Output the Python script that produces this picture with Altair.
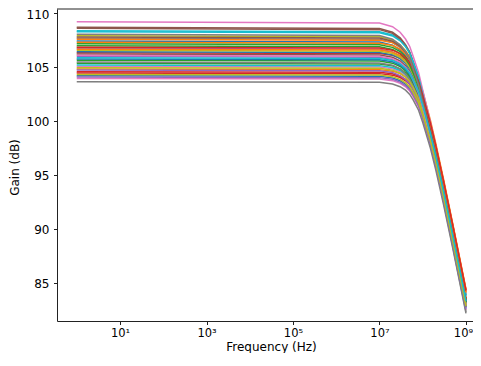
import math
import altair as alt
import pandas as pd

# Frequency points (Hz) shared by every run
freq_hz = [1, 1e7, 2e7, 3e7, 4e7, 5e7, 6e7, 8e7, 1e8, 1.5e8, 2e8, 3e8, 5e8, 1e9]

# Gain (dB) of each Monte-Carlo run, in drawing order
run_00 = [107.41, 107.31, 107.02, 106.57, 106.02, 105.39, 104.57, 103.19, 101.64, 98.81, 96.58, 93.26, 88.93, 82.96]
run_01 = [104.81, 104.76, 104.62, 104.40, 104.10, 103.75, 103.28, 102.38, 101.32, 99.04, 97.07, 93.98, 89.78, 83.86]
run_02 = [105.62, 105.55, 105.36, 105.05, 104.65, 104.19, 103.58, 102.47, 101.18, 98.63, 96.53, 93.32, 89.05, 83.10]
run_03 = [106.32, 106.26, 106.09, 105.81, 105.45, 105.03, 104.47, 103.44, 102.23, 99.77, 97.72, 94.54, 90.29, 84.35]
run_04 = [106.73, 106.64, 106.39, 106.00, 105.50, 104.94, 104.20, 102.92, 101.46, 98.72, 96.53, 93.25, 88.94, 82.97]
run_05 = [106.20, 106.12, 105.90, 105.56, 105.11, 104.60, 103.93, 102.74, 101.37, 98.72, 96.58, 93.33, 89.04, 83.08]
run_06 = [105.06, 105.00, 104.83, 104.55, 104.19, 103.77, 103.21, 102.18, 100.97, 98.51, 96.46, 93.28, 89.03, 83.09]
run_07 = [107.66, 107.56, 107.27, 106.82, 106.27, 105.64, 104.82, 103.44, 101.89, 99.06, 96.83, 93.51, 89.18, 83.21]
run_08 = [107.90, 107.80, 107.51, 107.06, 106.51, 105.88, 105.06, 103.68, 102.13, 99.30, 97.07, 93.75, 89.42, 83.45]
run_09 = [105.19, 105.13, 104.96, 104.68, 104.32, 103.90, 103.34, 102.31, 101.10, 98.64, 96.59, 93.41, 89.16, 83.22]
run_10 = [106.42, 106.34, 106.12, 105.78, 105.33, 104.82, 104.15, 102.96, 101.59, 98.94, 96.80, 93.55, 89.26, 83.30]
run_11 = [107.56, 107.48, 107.26, 106.92, 106.47, 105.96, 105.29, 104.10, 102.73, 100.08, 97.94, 94.69, 90.40, 84.44]
run_12 = [105.34, 105.28, 105.11, 104.83, 104.47, 104.05, 103.49, 102.46, 101.25, 98.79, 96.74, 93.56, 89.31, 83.37]
run_13 = [104.56, 104.51, 104.37, 104.15, 103.85, 103.50, 103.03, 102.13, 101.07, 98.79, 96.82, 93.73, 89.53, 83.61]
run_14 = [105.99, 105.91, 105.69, 105.35, 104.90, 104.39, 103.72, 102.53, 101.16, 98.51, 96.37, 93.12, 88.83, 82.87]
run_15 = [108.68, 108.56, 108.22, 107.71, 107.08, 106.39, 105.48, 103.99, 102.34, 99.42, 97.15, 93.80, 89.46, 83.47]
run_16 = [103.95, 103.90, 103.74, 103.49, 103.17, 102.78, 102.27, 101.31, 100.18, 97.81, 95.80, 92.66, 88.44, 82.51]
run_17 = [105.46, 105.38, 105.16, 104.82, 104.37, 103.86, 103.19, 102.00, 100.63, 97.98, 95.84, 92.59, 88.30, 82.34]
run_18 = [106.55, 106.47, 106.25, 105.91, 105.46, 104.95, 104.28, 103.09, 101.72, 99.07, 96.93, 93.68, 89.39, 83.43]
run_19 = [108.36, 108.26, 107.97, 107.52, 106.97, 106.34, 105.52, 104.14, 102.59, 99.76, 97.53, 94.21, 89.88, 83.91]
run_20 = [105.74, 105.67, 105.48, 105.17, 104.77, 104.31, 103.70, 102.59, 101.30, 98.75, 96.65, 93.44, 89.17, 83.22]
run_21 = [107.29, 107.21, 106.99, 106.65, 106.20, 105.69, 105.02, 103.83, 102.46, 99.81, 97.67, 94.42, 90.13, 84.17]
run_22 = [107.16, 107.07, 106.82, 106.43, 105.93, 105.37, 104.63, 103.35, 101.89, 99.15, 96.96, 93.68, 89.37, 83.40]
run_23 = [104.44, 104.39, 104.25, 104.03, 103.73, 103.38, 102.91, 102.01, 100.95, 98.67, 96.70, 93.61, 89.41, 83.49]
run_24 = [104.72, 104.66, 104.49, 104.21, 103.85, 103.43, 102.87, 101.84, 100.63, 98.17, 96.12, 92.94, 88.69, 82.75]
run_25 = [108.58, 108.46, 108.12, 107.61, 106.98, 106.29, 105.38, 103.89, 102.24, 99.32, 97.05, 93.70, 89.36, 83.37]
run_26 = [109.19, 109.07, 108.73, 108.22, 107.59, 106.90, 105.99, 104.50, 102.85, 99.93, 97.66, 94.31, 89.97, 83.98]
run_27 = [103.64, 103.59, 103.43, 103.18, 102.86, 102.47, 101.96, 101.00, 99.87, 97.50, 95.49, 92.35, 88.13, 82.20]
run_28 = [104.94, 104.88, 104.71, 104.43, 104.07, 103.65, 103.09, 102.06, 100.85, 98.39, 96.34, 93.16, 88.91, 82.97]
run_29 = [108.27, 108.17, 107.88, 107.43, 106.88, 106.25, 105.43, 104.05, 102.50, 99.67, 97.44, 94.12, 89.79, 83.82]
run_30 = [104.19, 104.14, 103.98, 103.73, 103.41, 103.02, 102.51, 101.55, 100.42, 98.05, 96.04, 92.90, 88.68, 82.75]
run_31 = [106.64, 106.57, 106.38, 106.07, 105.67, 105.21, 104.60, 103.49, 102.20, 99.65, 97.55, 94.34, 90.07, 84.12]
run_32 = [106.97, 106.88, 106.63, 106.24, 105.74, 105.18, 104.44, 103.16, 101.70, 98.96, 96.77, 93.49, 89.18, 83.21]
run_33 = [106.82, 106.75, 106.56, 106.25, 105.85, 105.39, 104.78, 103.67, 102.38, 99.83, 97.73, 94.52, 90.25, 84.30]
run_34 = [104.07, 104.02, 103.86, 103.61, 103.29, 102.90, 102.39, 101.43, 100.30, 97.93, 95.92, 92.78, 88.56, 82.63]
run_35 = [107.78, 107.68, 107.39, 106.94, 106.39, 105.76, 104.94, 103.56, 102.01, 99.18, 96.95, 93.63, 89.30, 83.33]
run_36 = [106.08, 106.00, 105.78, 105.44, 104.99, 104.48, 103.81, 102.62, 101.25, 98.60, 96.46, 93.21, 88.92, 82.96]
run_37 = [108.03, 107.91, 107.57, 107.06, 106.43, 105.74, 104.83, 103.34, 101.69, 98.77, 96.50, 93.15, 88.81, 82.82]
run_38 = [104.32, 104.27, 104.11, 103.86, 103.54, 103.15, 102.64, 101.68, 100.55, 98.18, 96.17, 93.03, 88.81, 82.88]
run_39 = [105.86, 105.79, 105.60, 105.29, 104.89, 104.43, 103.82, 102.71, 101.42, 98.87, 96.77, 93.56, 89.29, 83.34]

runs = [run_00, run_01, run_02, run_03, run_04, run_05, run_06, run_07, run_08, run_09,
        run_10, run_11, run_12, run_13, run_14, run_15, run_16, run_17, run_18, run_19,
        run_20, run_21, run_22, run_23, run_24, run_25, run_26, run_27, run_28, run_29,
        run_30, run_31, run_32, run_33, run_34, run_35, run_36, run_37, run_38, run_39]

tab10 = ["#1f77b4", "#ff7f0e", "#2ca02c", "#d62728", "#9467bd",
         "#8c564b", "#e377c2", "#7f7f7f", "#bcbd22", "#17becf"]

x_tick_values = [1e1, 1e3, 1e5, 1e7, 1e9]
x_tick_labels = ["10\u00b9", "10\u00b3", "10\u2075", "10\u2077", "10\u2079"]
y_tick_values = [85, 90, 95, 100, 105, 110]

X_DOMAIN = [0.3494, 1.4517e9]
Y_DOMAIN = [81.5, 110.37]

run_names = [f"run {i:02d}" for i in range(len(runs))]
run_colors = [tab10[i % 10] for i in range(len(runs))]

rows = []
for name, gains in zip(run_names, runs):
    for f, g in zip(freq_hz, gains):
        rows.append({"run": name, "freq": f, "gain": g})
df = pd.DataFrame(rows)

exp_expr = "round(log(datum.value)/LN10)"
label_expr = " : ".join(
    f"{exp_expr} == {round(math.log10(v))} ? '{lab}'"
    for v, lab in zip(x_tick_values, x_tick_labels)
) + " : ''"

FONT = "DejaVu Sans"
INK = "#222"

lines = alt.Chart(df).mark_line(strokeWidth=1.5, clip=True).encode(
    x=alt.X(
        "freq:Q",
        scale=alt.Scale(type="log", domain=X_DOMAIN, nice=False),
        axis=alt.Axis(values=x_tick_values, labelExpr=label_expr,
                      labelBaseline="alphabetic", labelPadding=12,
                      labelFontSize=11.5,
                      labelOffset={"condition": {"test": "datum.value > 1e8", "value": -3},
                                   "value": 0},
                      title="Frequency (Hz)", grid=False,
                      titleX=214, titleY=29, titleBaseline="alphabetic"),
    ),
    y=alt.Y(
        "gain:Q",
        scale=alt.Scale(domain=Y_DOMAIN, nice=False, zero=False),
        axis=alt.Axis(values=y_tick_values, title="Gain (dB)", grid=False,
                      labelPadding=4.5,
                      labelOffset={"condition": {"test": "datum.value >= 110", "value": 1.5},
                                   "value": 0},
                      titleX=-39, titleY=158, titleBaseline="alphabetic"),
    ),
    color=alt.Color("run:N", scale=alt.Scale(domain=run_names, range=run_colors), legend=None),
)

top_spine = alt.Chart(pd.DataFrame({"y": [Y_DOMAIN[1]]})).mark_rule(
    color=INK, strokeWidth=1
).encode(y="y:Q")

chart = alt.layer(lines, top_spine).properties(
    width=416,
    height=312,
    autosize=alt.AutoSizeParams(type="none"),
    padding={"left": 49, "top": 1, "right": 0, "bottom": 32},
).configure_view(stroke=None).configure_axis(
    domainColor=INK,
    domainWidth=1,
    tickColor=INK,
    tickWidth=1,
    tickSize=3.5,
    labelFont=FONT,
    labelFontSize=12,
    labelColor="#000",
    titleFont=FONT,
    titleFontSize=12,
    titleFontWeight="normal",
    titleColor="#000",
)

chart.save("out.html", embed_options={"renderer": "svg", "actions": False})
